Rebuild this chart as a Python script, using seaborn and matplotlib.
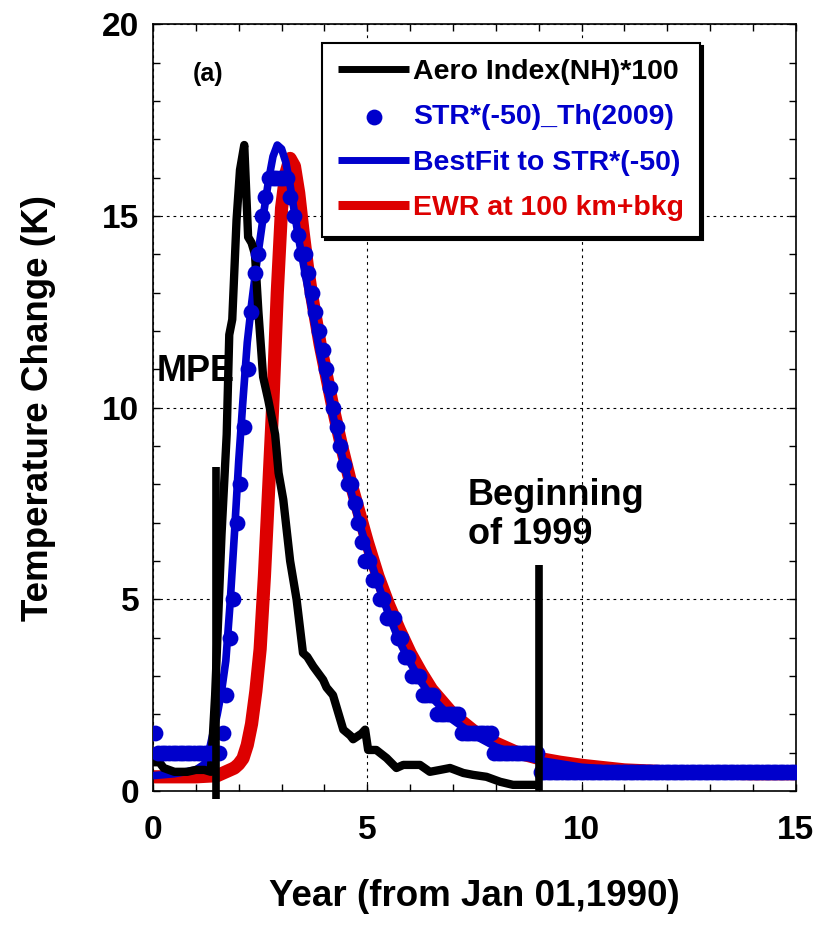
import numpy as np
import matplotlib
matplotlib.use('Agg')
import matplotlib.pyplot as plt
import seaborn as sns
from matplotlib.ticker import MultipleLocator

# Aerosol index (NH) * 100
aero_year = [0, 0.15, 0.25, 0.5, 0.8, 1.0, 1.2, 1.35, 1.45, 1.6,
             1.72, 1.78, 1.85, 1.95, 2.03, 2.13, 2.22, 2.3, 2.38, 2.46,
             2.57, 2.69, 2.85, 2.93, 3.04, 3.2, 3.35, 3.5, 3.6, 3.74,
             3.97, 4.05, 4.2, 4.28, 4.44, 4.6, 4.67, 4.87, 4.95, 5.02,
             5.21, 5.45, 5.68, 5.84, 6.23, 6.46, 6.7, 6.93, 7.24, 7.47,
             7.78, 8.1, 8.4, 8.95]
aero_index = [0.75, 0.75, 0.6, 0.5, 0.5, 0.55, 0.55, 0.5, 2.5, 6.7,
              9.3, 11.9, 12.3, 14.9, 16.2, 16.85, 14.45, 14.3, 14.0, 12.5,
              10.8, 10.2, 9.3, 8.3, 7.6, 6.0, 5.0, 3.6, 3.5, 3.25,
              2.9, 2.7, 2.5, 2.2, 1.6, 1.45, 1.35, 1.5, 1.6, 1.07,
              1.07, 0.86, 0.6, 0.68, 0.68, 0.5, 0.55, 0.6, 0.47, 0.42,
              0.37, 0.24, 0.16, 0.16]

# STR*(-50), monthly values (one row per year, 1990..2004)
str_temp = [
    1.5, 1, 1, 1, 1, 1, 1, 1, 1, 1, 1, 1,
    1, 1, 1, 1, 1, 1, 1, 1.5, 2.5, 4.0, 5.0, 7.0,
    8.0, 9.5, 11.0, 12.5, 13.5, 14.0, 15.0, 15.5, 16, 16, 16, 16,
    16, 16, 15.5, 15.0, 14.5, 14.0, 14.0, 13.5, 13.0, 12.5, 12.0, 11.5,
    11.0, 10.5, 10.0, 9.5, 9.0, 8.5, 8.0, 8.0, 7.5, 7.0, 6.5, 6.0,
    6.0, 5.5, 5.5, 5.0, 5.0, 4.5, 4.5, 4.5, 4.0, 4.0, 3.5, 3.5,
    3.0, 3.0, 3.0, 2.5, 2.5, 2.5, 2.5, 2.0, 2.0, 2.0, 2.0, 2.0,
    2.0, 2.0, 1.5, 1.5, 1.5, 1.5, 1.5, 1.5, 1.5, 1.5, 1.5, 1.0,
    1, 1, 1, 1, 1, 1, 1, 1, 1, 1, 1, 1,
    0.5, 0.5, 0.5, 0.5, 0.5, 0.5, 0.5, 0.5, 0.5, 0.5, 0.5, 0.5,
    0.5, 0.5, 0.5, 0.5, 0.5, 0.5, 0.5, 0.5, 0.5, 0.5, 0.5, 0.5,
    0.5, 0.5, 0.5, 0.5, 0.5, 0.5, 0.5, 0.5, 0.5, 0.5, 0.5, 0.5,
    0.5, 0.5, 0.5, 0.5, 0.5, 0.5, 0.5, 0.5, 0.5, 0.5, 0.5, 0.5,
    0.5, 0.5, 0.5, 0.5, 0.5, 0.5, 0.5, 0.5, 0.5, 0.5, 0.5, 0.5,
    0.5, 0.5, 0.5, 0.5, 0.5, 0.5, 0.5, 0.5, 0.5, 0.5, 0.5, 0.5,
]
# mid-month time axis
str_year = (np.arange(len(str_temp)) + 0.5) / 12

# best fit to STR*(-50)
fit_year = [0, 0.5, 1.0, 1.2, 1.3, 1.4, 1.5, 1.6, 1.7, 1.8,
            1.9, 2.0, 2.1, 2.2, 2.3, 2.4, 2.5, 2.6, 2.7, 2.8,
            2.9, 3.0, 3.1, 3.2, 3.3, 3.4, 3.5, 3.6, 3.7, 3.8,
            3.9, 4.0, 4.2, 4.4, 4.6, 4.8, 5.0, 5.25, 5.5, 5.75,
            6.0, 6.25, 6.5, 7.0, 7.5, 8.0, 8.5, 9.0, 10, 11,
            12, 13, 15]
fit_temp = [0.4, 0.45, 0.55, 0.7, 1.0, 1.5, 2.0, 2.6, 3.4, 4.9,
            6.7, 8.6, 10.2, 11.7, 12.7, 13.6, 14.4, 15.2, 15.95, 16.55,
            16.85, 16.75, 16.4, 15.8, 15.1, 14.4, 13.8, 13.2, 12.6, 12.0,
            11.4, 10.9, 9.8, 8.8, 7.9, 7.05, 6.3, 5.4, 4.6, 3.9,
            3.35, 2.85, 2.45, 1.85, 1.45, 1.15, 0.95, 0.8, 0.62, 0.54,
            0.5, 0.48, 0.47]

# EWR at 100 km + background
ewr_year = [0, 0.5, 1.0, 1.5, 1.7, 1.9, 2.0, 2.1, 2.2, 2.3,
            2.4, 2.5, 2.6, 2.7, 2.8, 2.9, 3.0, 3.1, 3.2, 3.3,
            3.4, 3.5, 3.6, 3.7, 3.8, 3.9, 4.0, 4.2, 4.4, 4.6,
            4.8, 5.0, 5.25, 5.5, 5.75, 6.0, 6.25, 6.5, 7.0, 7.5,
            8.0, 8.5, 9.0, 9.5, 10, 11, 12, 13, 14, 15]
ewr_temp = [0.37, 0.37, 0.37, 0.4, 0.5, 0.6, 0.7, 0.85, 1.2, 1.75,
            2.6, 3.7, 5.6, 7.9, 10.2, 13.0, 15.2, 16.1, 16.5, 16.3,
            15.6, 14.6, 13.7, 12.95, 12.3, 11.65, 11.1, 10.0, 9.0, 8.1,
            7.3, 6.5, 5.6, 4.85, 4.2, 3.6, 3.1, 2.65, 2.0, 1.55,
            1.25, 1.0, 0.85, 0.75, 0.67, 0.55, 0.5, 0.47, 0.45, 0.45]

# vertical markers: MPE and beginning of 1999
event_year = [1.47, 9.0]
event_low = [-0.2, 0.0]
event_high = [8.45, 5.9]

BLUE = '#0000cc'
RED = '#dd0000'

sns.set_style('ticks')
plt.rcParams['font.family'] = ['Liberation Sans', 'DejaVu Sans']
plt.rcParams['font.weight'] = 'bold'
plt.rcParams['axes.labelweight'] = 'bold'
plt.rcParams['text.color'] = 'black'
plt.rcParams['axes.labelcolor'] = 'black'
plt.rcParams['xtick.color'] = 'black'
plt.rcParams['ytick.color'] = 'black'
plt.rcParams['lines.solid_capstyle'] = 'butt'

fig = plt.figure(figsize=(8.18, 9.26), dpi=100)
ax = fig.add_axes([0.187, 0.1458, 0.786, 0.828])

sns.lineplot(x=ewr_year, y=ewr_temp, color=RED, lw=9.5, ax=ax,
             label='EWR at 100 km+bkg', estimator=None, sort=False, zorder=2)
sns.lineplot(x=fit_year, y=fit_temp, color=BLUE, lw=5.5, ax=ax,
             label='BestFit to STR*(-50)', estimator=None, sort=False, zorder=3)
sns.lineplot(x=aero_year, y=aero_index, color='black', lw=6, ax=ax,
             label='Aero Index(NH)*100', estimator=None, sort=False, zorder=4)
sns.scatterplot(x=str_year, y=str_temp, color=BLUE, s=130, linewidth=0, ax=ax,
                label='STR*(-50)_Th(2009)', zorder=5)

ax.vlines(event_year, event_low, event_high, color='black', lw=5.5,
          zorder=6, clip_on=False)

ax.text(1.28, 18.7, '(a)', fontsize=18, ha='center', va='center')
ax.text(0.09, 10.93, 'MPE', fontsize=26, ha='left', va='center', zorder=1)
ax.text(7.35, 7.2, 'Beginning\nof 1999', fontsize=26, ha='left',
        va='center', linespacing=1.15)

ax.set_xlim(0, 15)
ax.set_ylim(0, 20)
ax.xaxis.set_major_locator(MultipleLocator(5))
ax.yaxis.set_major_locator(MultipleLocator(5))
ax.xaxis.set_minor_locator(MultipleLocator(1))
ax.yaxis.set_minor_locator(MultipleLocator(1))
ax.tick_params(which='both', direction='in', top=True, right=True,
               length=5, width=1, color='black')
ax.tick_params(axis='x', labelsize=24, pad=17)
ax.tick_params(axis='y', labelsize=24, pad=10)
ax.grid(True, which='major', color='black', lw=0.8, ls=(0, (2.5, 3.5)))
ax.set_axisbelow(True)
for sp in ax.spines.values():
    sp.set_color('black')
    sp.set_linewidth(1.2)

ax.set_xlabel('Year (from Jan 01,1990)', fontsize=26.5, labelpad=24)
ax.set_ylabel('Temperature Change (K)', fontsize=26.5, labelpad=33)

handles, labels = ax.get_legend_handles_labels()
order = ['Aero Index(NH)*100', 'STR*(-50)_Th(2009)',
         'BestFit to STR*(-50)', 'EWR at 100 km+bkg']
hmap = dict(zip(labels, handles))
leg = ax.legend([hmap[k] for k in order], order, loc='upper right',
                bbox_to_anchor=(0.851, 0.975), fontsize=20.5, frameon=True,
                fancybox=False, shadow={'color': 'black', 'alpha': 1},
                edgecolor='black', framealpha=1, handlelength=2.5,
                handletextpad=0.15, labelspacing=0.68, borderpad=0.55,
                borderaxespad=0, scatterpoints=1,
                labelcolor=['black', BLUE, BLUE, RED])
leg.get_frame().set_linewidth(1.5)
leg.set_zorder(10)
# thinner handle lines, as in the original legend
for hl, w in zip(leg.legend_handles, [5, None, 5, 6.5]):
    if w is not None:
        hl.set_linewidth(w)
        hl.set_solid_capstyle('butt')

fig.savefig('out.png', dpi=100)
